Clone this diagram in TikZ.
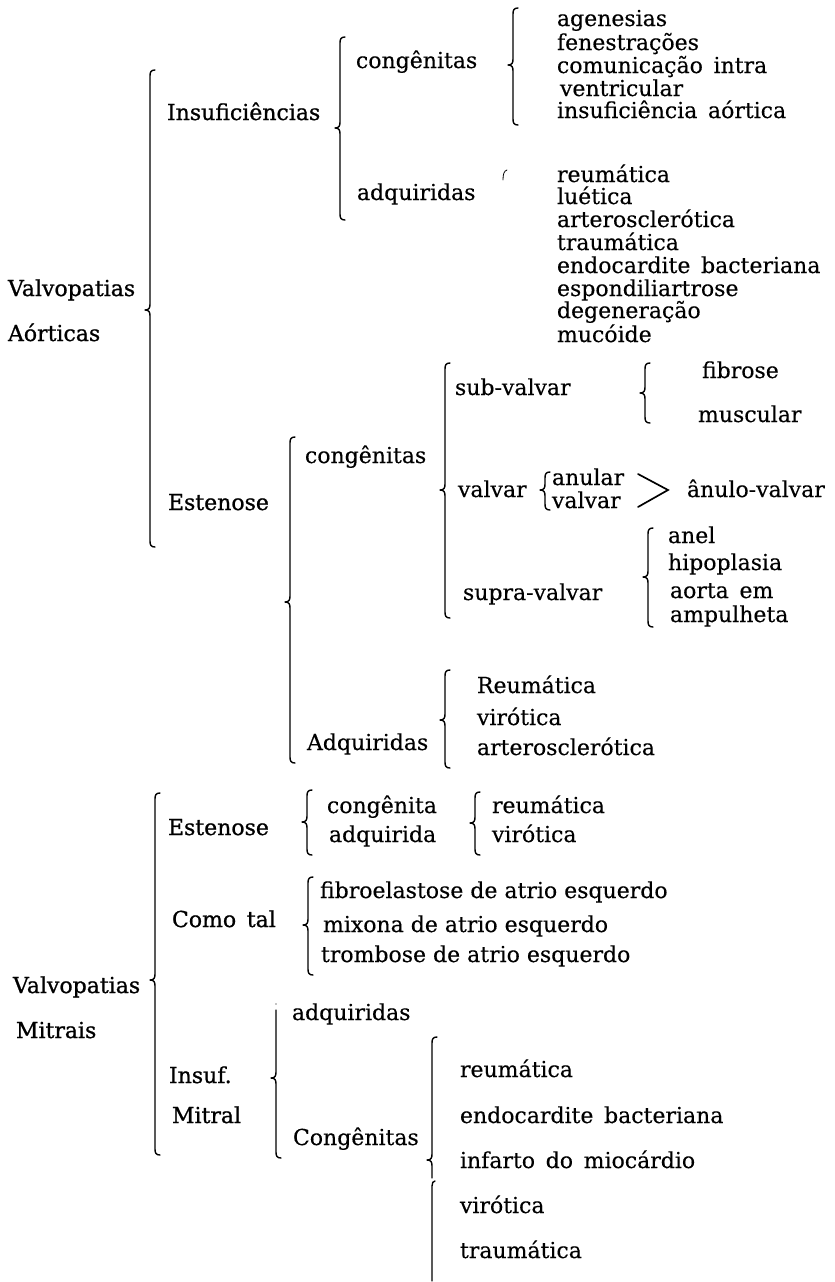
\documentclass[tikz,border=0pt]{standalone}
\usepackage{fontspec}
\setmainfont{DejaVu Serif}[FakeBold=0.3]
\newfontfamily\hdrfont{DejaVu Serif}[FakeBold=0.9]
\tikzset{
  lbl/.style={anchor=base west, inner sep=0pt, outer sep=0pt, font=\fontsize{22}{23}\selectfont},
  hdr/.style={lbl, font=\hdrfont\fontsize{22}{23}\selectfont},
  brc/.style={line width=1.4pt, line cap=round, line join=round},
  angl/.style={line width=1.7pt, line cap=round}
}
\newcommand\cbr[4]{% #1 x, #2 top, #3 bottom, #4 cusp
  \draw[brc] ({#1+5},#2) .. controls ({#1+1},#2) and (#1,{#2+2}) .. (#1,{#2+6})
    -- (#1,{#4-6}) .. controls (#1,{#4-2}) and ({#1-1},#4) .. ({#1-5},#4)
    .. controls ({#1-1},#4) and (#1,{#4+2}) .. (#1,{#4+6})
    -- (#1,{#3-6}) .. controls (#1,{#3-2}) and ({#1+1},#3) .. ({#1+5},#3);}
\newcommand\tx[5][lbl]{\node[#1] (#2) at (#3,#4) {#5};}
\begin{document}
\begin{tikzpicture}[x=1pt,y=-1pt]
\useasboundingbox (0,0) rectangle (835,1282);
% ---------------- Aortic ----------------
\tx[hdr]{va}{8}{296}{Valvopatias}
\tx[hdr]{vb}{8}{341}{Aórticas}
\cbr{150}{70}{547}{310}
\tx[hdr]{ins}{167}{120}{Insuficiências}
\cbr{340}{37}{220}{128}
\tx{icong}{356}{68}{congênitas}
\tx{iadq}{357}{200}{adquiridas}
\cbr{513}{8}{125}{65}
\tx{c1}{557}{26}{agenesias}
\tx{c2}{557}{50}{fenestrações}
\tx{c3}{557}{73}{comunicação\, intra}
\tx{c4}{560}{96}{ventricular}
\tx{c5}{557}{118}{insuficiência\, aórtica}
\draw[line width=0.8pt, line cap=round] (503,180) .. controls (503,174) and (504,171) .. (507,170);
\tx{a1}{557}{182}{reumática}
\tx{a2}{557}{204}{luética}
\tx{a3}{557}{227}{arterosclerótica}
\tx{a4}{557}{250}{traumática}
\tx{a5}{557}{273}{endocardite\, bacteriana}
\tx{a6}{557}{296}{espondiliartrose}
\tx{a7}{557}{318}{degeneração}
\tx{a8}{557}{342}{mucóide}
\tx[hdr]{est}{168}{510}{Estenose}
\cbr{290}{437}{763}{602}
\tx{econg}{305}{463}{congênitas}
\tx{eadq}{307}{750}{Adquiridas}
\cbr{445}{363}{618}{490}
\tx{sub}{455}{395}{sub-valvar}
\tx{val}{458}{497}{valvar}
\tx{sup}{463}{600}{supra-valvar}
\cbr{645}{363}{423}{393}
\tx{fib}{702}{378}{fibrose}
\tx{mus}{698}{422}{muscular}
\cbr{545}{472}{510}{490}
\tx{anu}{552}{485}{anular}
\tx{vlv}{552}{508}{valvar}
\draw[angl] (638,474) -- (668,490) -- (638,507);
\tx{anv}{687}{497}{ânulo-valvar}
\cbr{648}{528}{627}{577}
\tx{s1}{668}{543}{anel}
\tx{s2}{668}{570}{hipoplasia}
\tx{s3}{670}{598}{aorta\, em}
\tx{s4}{670}{622}{ampulheta}
\cbr{445}{670}{768}{720}
\tx{r1}{477}{693}{Reumática}
\tx{r2}{477}{725}{virótica}
\tx{r3}{477}{755}{arterosclerótica}
% ---------------- Mitral ----------------
\tx[hdr]{vm}{13}{993}{Valvopatias}
\tx[hdr]{vn}{16}{1038}{Mitrais}
\cbr{155}{793}{1155}{980}
\tx[hdr]{mest}{168}{835}{Estenose}
\cbr{307}{790}{855}{822}
\tx{mcg}{327}{813}{congênita}
\tx{mad}{329}{842}{adquirida}
\cbr{475}{792}{855}{823}
\tx{mr1}{492}{813}{reumática}
\tx{mr2}{492}{842}{virótica}
\tx[hdr]{como}{172}{927}{Como\, tal}
\cbr{308}{877}{975}{925}
\tx{f1}{320}{898}{fibroelastose de atrio esquerdo}
\tx{f2}{323}{932}{mixona de atrio esquerdo}
\tx{f3}{321}{962}{trombose de atrio esquerdo}
\tx[hdr]{insm}{169}{1083}{Insuf.}
\tx[hdr]{mit}{172}{1123}{Mitral}
\fill (276,1004) circle (0.7pt);
\draw[brc] (276,1010) -- (276,1072) .. controls (276,1076) and (275,1078) .. (271,1078)
  .. controls (275,1078) and (276,1080) .. (276,1084) -- (276,1152)
  .. controls (276,1156) and (277,1158) .. (281,1158);
\tx{madq}{292}{1020}{adquiridas}
\tx{mcon}{293}{1145}{Congênitas}
% Congenitas brace, drawn in two pieces as printed
\draw[brc] (437,1037) .. controls (433,1037) and (432,1039) .. (432,1043)
  -- (432,1154) .. controls (432,1158) and (431,1160) .. (427,1160)
  .. controls (431,1160) and (432,1162) .. (432,1166) -- (432,1178);
\draw[brc] (435,1181) .. controls (433,1181) and (432,1183) .. (432,1186) -- (432,1281);
\tx{q1}{460}{1077}{reumática}
\tx{q2}{460}{1123}{endocardite\, bacteriana}
\tx{q3}{460}{1168}{infarto\, do\, miocárdio}
\tx{q4}{460}{1213}{virótica}
\tx{q5}{460}{1258}{traumática}
\end{tikzpicture}
\end{document}
